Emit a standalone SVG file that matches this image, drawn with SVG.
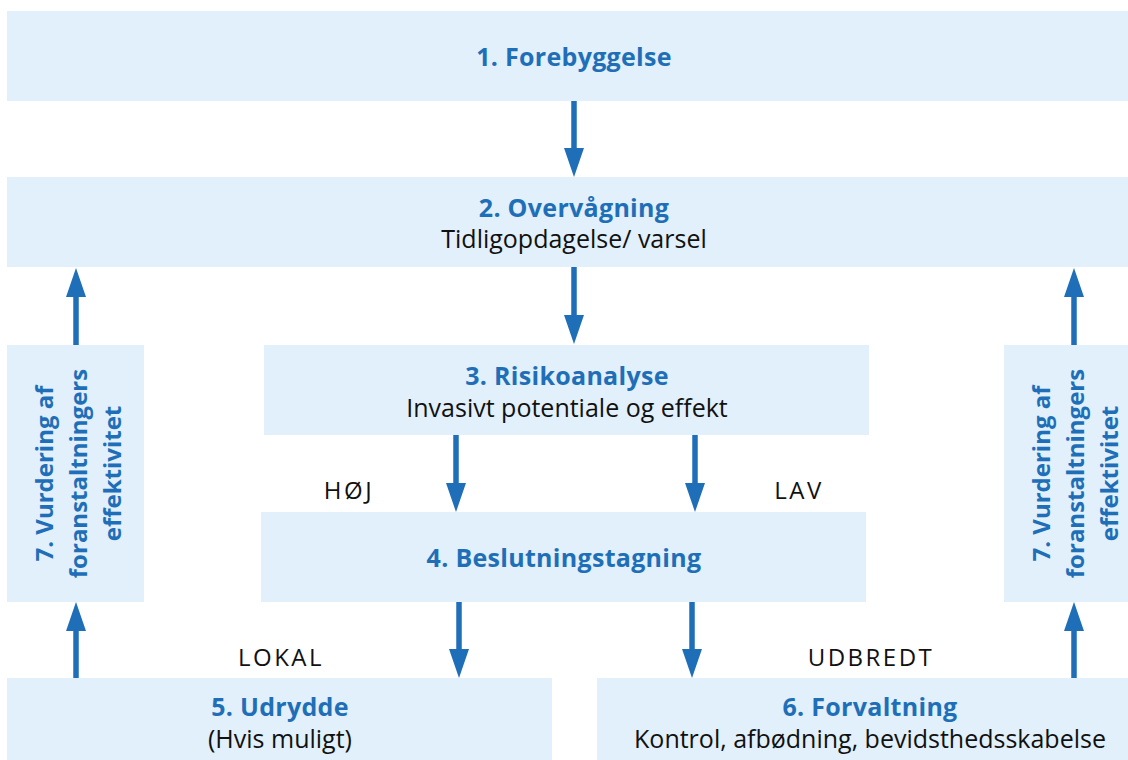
<svg xmlns="http://www.w3.org/2000/svg" width="1128" height="760" viewBox="0 0 1128 760">
<style>
.box{fill:#e1f0fb}
.t{font-family:"Open Sans","Liberation Sans",sans-serif;font-weight:bold;font-size:25px;letter-spacing:0.3px;fill:#1f6fb8;text-anchor:middle}
.r{font-family:"Open Sans","Liberation Sans",sans-serif;font-weight:bold;font-size:24px;fill:#1f6fb8;text-anchor:middle}
.s{font-family:"Open Sans","Liberation Sans",sans-serif;font-size:25px;fill:#111;text-anchor:middle}
.l{font-family:"Open Sans","Liberation Sans",sans-serif;font-size:24px;letter-spacing:2.5px;fill:#111;text-anchor:middle}
.c{stroke:#1f6fb8;stroke-width:5.5;fill:none}
.h{fill:#1f6fb8}
</style>
<rect width="1128" height="760" fill="#fff"/>
<g id="n1"><rect class="box" x="7" y="11" width="1134" height="90"/><text class="t" x="574" y="66">1. Forebyggelse</text></g>
<g id="n2"><rect class="box" x="7" y="177" width="1134" height="90"/><text class="t" x="574" y="217">2. Overvågning</text><text class="s" x="574" y="248">Tidligopdagelse/ varsel</text></g>
<g id="n3"><rect class="box" x="264" y="345" width="605" height="90"/><text class="t" x="567" y="385">3. Risikoanalyse</text><text class="s" x="567" y="417">Invasivt potentiale og effekt</text></g>
<g id="n4"><rect class="box" x="261" y="512" width="605" height="90"/><text class="t" x="564" y="567">4. Beslutningstagning</text></g>
<g id="n5"><rect class="box" x="7" y="678" width="545" height="90"/><text class="t" x="280" y="716">5. Udrydde</text><text class="s" x="280" y="748">(Hvis muligt)</text></g>
<g id="n6"><rect class="box" x="597" y="678" width="546" height="90"/><text class="t" x="870" y="716">6. Forvaltning</text><text class="s" x="870" y="748">Kontrol, afbødning, bevidsthedsskabelse</text></g>
<g id="n7a"><rect class="box" x="7" y="345" width="137" height="257"/>
<g transform="translate(76 473.5) rotate(-90)"><text class="r" x="0" y="-23">7. Vurdering af</text><text class="r" x="0" y="11">foranstaltningers</text><text class="r" x="0" y="45">effektivitet</text></g></g>
<g id="n7b"><rect class="box" x="1004" y="345" width="137" height="257"/>
<g transform="translate(1073 473.5) rotate(-90)"><text class="r" x="0" y="-23">7. Vurdering af</text><text class="r" x="0" y="11">foranstaltningers</text><text class="r" x="0" y="45">effektivitet</text></g></g>
<g id="connectors">
<line class="c" x1="574" y1="101" x2="574" y2="150"/><polygon class="h" points="564,148 584,148 574,177"/>
<line class="c" x1="574" y1="267" x2="574" y2="316"/><polygon class="h" points="564,315 584,315 574,344"/>
<line class="c" x1="456" y1="435" x2="456" y2="485"/><polygon class="h" points="446,483 466,483 456,512"/>
<line class="c" x1="695" y1="435" x2="695" y2="485"/><polygon class="h" points="685,483 705,483 695,512"/>
<line class="c" x1="459" y1="602" x2="459" y2="651"/><polygon class="h" points="449,649 469,649 459,678"/>
<line class="c" x1="692" y1="602" x2="692" y2="651"/><polygon class="h" points="682,649 702,649 692,678"/>
<line class="c" x1="76" y1="678" x2="76" y2="629"/><polygon class="h" points="66,631 86,631 76,602"/>
<line class="c" x1="76" y1="345" x2="76" y2="296"/><polygon class="h" points="66,297 86,297 76,268"/>
<line class="c" x1="1074" y1="678" x2="1074" y2="629"/><polygon class="h" points="1064,631 1084,631 1074,602"/>
<line class="c" x1="1074" y1="345" x2="1074" y2="296"/><polygon class="h" points="1064,297 1084,297 1074,268"/>
</g>
<g id="labels">
<text class="l" x="349" y="499">HØJ</text>
<text class="l" x="799" y="499">LAV</text>
<text class="l" x="281" y="666">LOKAL</text>
<text class="l" x="871" y="666">UDBREDT</text>
</g>
</svg>
